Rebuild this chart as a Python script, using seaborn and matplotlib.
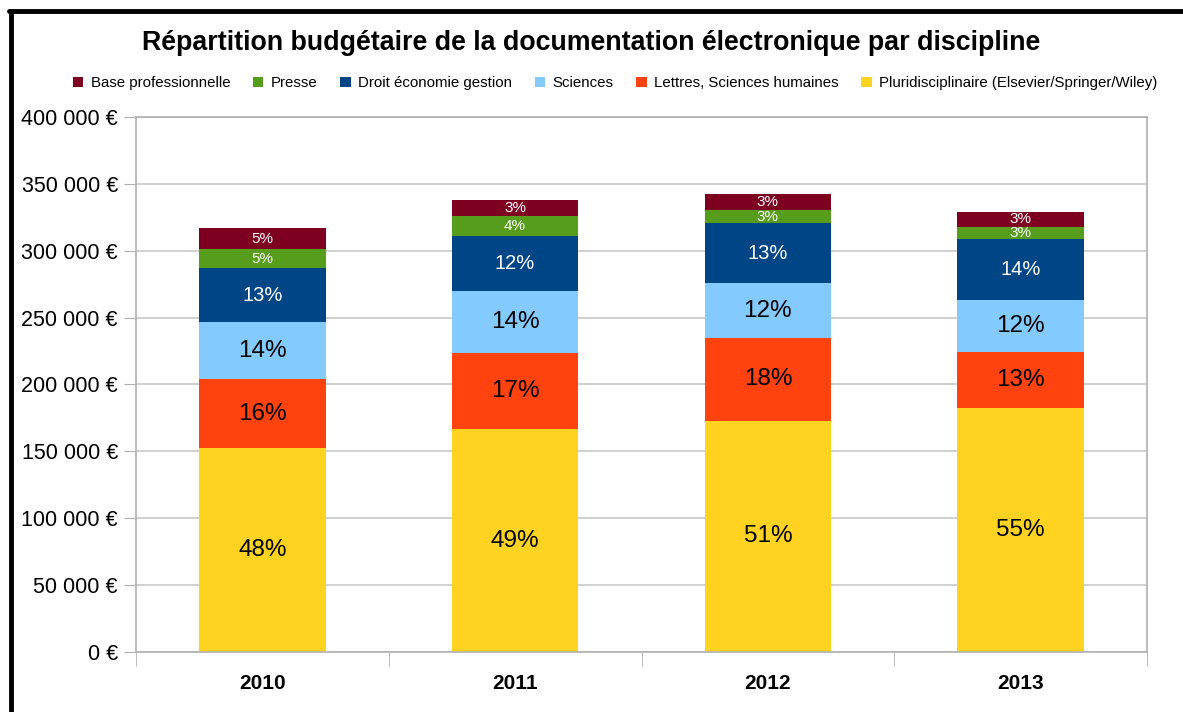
import numpy as np
import pandas as pd
import seaborn as sns
import matplotlib
matplotlib.use("Agg")
from matplotlib import pyplot as plt
from matplotlib.lines import Line2D
from matplotlib.patches import Patch
from matplotlib.ticker import FuncFormatter

# data (euros), stacked bottom -> top
years = ["2010", "2011", "2012", "2013"]
pluri = [152500, 166700, 173000, 182400]
lettres = [51600, 56900, 61500, 41900]
sciences = [42600, 46300, 41100, 38900]
droit = [40400, 41100, 44900, 45600]
presse = [14200, 15000, 9700, 9000]
base_pro = [15700, 11900, 12000, 11200]

# percentage labels as printed on the bars
pct_pluri = ["48%", "49%", "51%", "55%"]
pct_lettres = ["16%", "17%", "18%", "13%"]
pct_sciences = ["14%", "14%", "12%", "12%"]
pct_droit = ["13%", "12%", "13%", "14%"]
pct_presse = ["5%", "4%", "3%", "3%"]
pct_base = ["5%", "3%", "3%", "3%"]

names = ["Pluridisciplinaire (Elsevier/Springer/Wiley)", "Lettres, Sciences humaines",
         "Sciences", "Droit économie gestion", "Presse", "Base professionnelle"]
series = [pluri, lettres, sciences, droit, presse, base_pro]
pcts = [pct_pluri, pct_lettres, pct_sciences, pct_droit, pct_presse, pct_base]
colors = ["#FFD320", "#FF420E", "#83CAFF", "#004586", "#579D1C", "#7E0021"]
txt_colors = ["black", "black", "black", "white", "white", "white"]
txt_sizes = [17.5, 17.5, 17.5, 14.5, 11, 11]

sns.set_style("white")
plt.rcParams['font.family'] = ['Liberation Sans', 'DejaVu Sans']
plt.rcParams['text.color'] = 'black'
plt.rcParams['xtick.color'] = 'black'
plt.rcParams['ytick.color'] = 'black'

fig = plt.figure(figsize=(11.83, 7.12), dpi=100)
ax = fig.add_axes([136 / 1183, 1 - 652 / 712, (1147 - 136) / 1183, (652 - 117) / 712])

bottom = np.zeros(len(years))
for name, vals, col, pl, tc, ts in zip(names, series, colors, pcts, txt_colors, txt_sizes):
    vals = np.array(vals, dtype=float)
    sns.barplot(x=years, y=vals, bottom=bottom, color=col, width=0.5,
                ax=ax, saturation=1, linewidth=0)
    for i in range(len(years)):
        ax.text(i, bottom[i] + vals[i] / 2, pl[i], ha="center", va="center",
                color=tc, fontsize=ts)
    bottom += vals

ax.set_ylim(0, 400000)
ax.set_xlim(-0.5, 3.5)
ax.set_yticks(np.arange(0, 400001, 50000))
ax.yaxis.set_major_formatter(FuncFormatter(lambda v, p: f"{int(v):,} €".replace(",", " ")))
ax.yaxis.grid(True, color="#c8c8c8", linewidth=1.2)
ax.set_axisbelow(True)
ax.tick_params(axis="y", labelsize=15.5, length=9, color="#b0b0b0", labelcolor="black",
               left=True, pad=4)
ax.tick_params(axis="x", length=0, labelsize=15, labelcolor="black", pad=16)
for lab in ax.get_xticklabels():
    lab.set_fontweight("bold")
# category separator ticks
ax.set_xticks([-0.5, 0.5, 1.5, 2.5, 3.5], minor=True)
ax.tick_params(axis="x", which="minor", length=10, color="#b0b0b0", bottom=True)
for s in ["left", "bottom", "right", "top"]:
    ax.spines[s].set_color("#b0b0b0")
    ax.spines[s].set_linewidth(1.2)
ax.set_xlabel("")
ax.set_ylabel("")

fig.text(0.5, 1 - 43 / 712, "Répartition budgétaire de la documentation électronique par discipline",
         ha="center", va="center", fontsize=19.3, fontweight="bold", color="black")

handles = [Patch(facecolor=c, edgecolor="none") for c in colors[::-1]]
fig.legend(handles, names[::-1], loc="center", bbox_to_anchor=(0.52, 1 - 83 / 712),
           ncol=6, frameon=False, fontsize=10.8, handlelength=0.7, handleheight=0.7,
           handletextpad=0.5, columnspacing=1.5)

# outer frame (left and top edges)
fig.add_artist(Line2D([11 / 1183, 11 / 1183], [0, 1 - 11 / 712], color="black", linewidth=3.5,
                      transform=fig.transFigure))
fig.add_artist(Line2D([9 / 1183, 1], [1 - 11 / 712, 1 - 11 / 712], color="black", linewidth=3.5,
                      transform=fig.transFigure))

fig.savefig("out.png", dpi=100, facecolor="white")
